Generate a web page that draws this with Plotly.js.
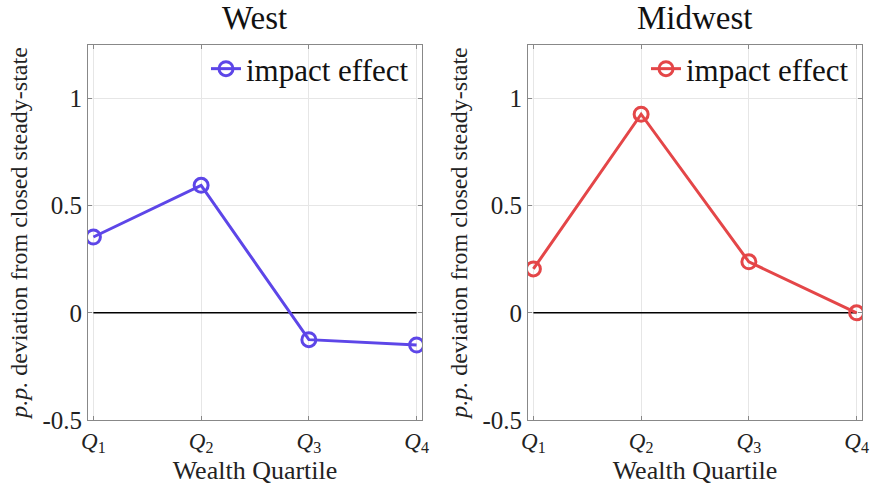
<!DOCTYPE html>
<html>
<head>
<meta charset="utf-8">
<script src="https://cdn.plot.ly/plotly-3.0.1.min.js"></script>
<style>html,body{margin:0;padding:0;background:#fff;}#chart{width:871px;height:487px;}</style>
</head>
<body>
<div id="chart"></div>
<script>
const quartiles = [1, 2, 3, 4];
const tickLabels = ['<i>Q</i><sub>1</sub>', '<i>Q</i><sub>2</sub>', '<i>Q</i><sub>3</sub>', '<i>Q</i><sub>4</sub>'];
const westValues = [0.354, 0.595, -0.125, -0.150];
const midwestValues = [0.205, 0.927, 0.238, 0.0];
const zeroLine = [0, 0, 0, 0];
const panelTitles = ['West', 'Midwest'];
const seriesName = 'impact effect';
const yTickVals = [-0.5, 0, 0.5, 1];
const yTickText = ['-0.5', '0', '0.5', '1'];

const font = 'Liberation Serif';
const westColor = 'rgb(93,70,232)';
const midColor = 'rgb(228,70,72)';

function series(x, y, color, xa, ya, legend) {
  return {
    x: x, y: y, xaxis: xa, yaxis: ya, type: 'scatter', mode: 'lines+markers',
    name: seriesName, legend: legend,
    line: {color: color, width: 3},
    marker: {symbol: 'circle-open', size: 14, color: color, line: {width: 3, color: color}}
  };
}
function zero(xa, ya) {
  return {x: quartiles, y: zeroLine, xaxis: xa, yaxis: ya, type: 'scatter', mode: 'lines',
    line: {color: '#000', width: 1.5}, showlegend: false, hoverinfo: 'skip'};
}

const data = [
  zero('x', 'y'),
  zero('x2', 'y2'),
  series(quartiles, westValues, westColor, 'x', 'y', 'legend'),
  series(quartiles, midwestValues, midColor, 'x2', 'y2', 'legend2')
];

function xaxis(domain, anchor) {
  return {
    domain: domain, anchor: anchor, range: [0.95, 4.05],
    tickvals: quartiles, ticktext: tickLabels,
    showgrid: true, gridcolor: '#e6e6e6', gridwidth: 1,
    zeroline: false, showline: true, linecolor: '#888', linewidth: 1, mirror: 'ticks',
    ticks: 'inside', ticklen: 4, tickcolor: '#888',
    tickfont: {family: font, size: 23, color: '#222'},
    title: {text: 'Wealth Quartile', font: {family: font, size: 26, color: '#222'}, standoff: 5}
  };
}
function yaxis(domain, anchor) {
  return {
    domain: domain, anchor: anchor, range: [-0.5, 1.25],
    tickvals: yTickVals, ticktext: yTickText,
    showgrid: true, gridcolor: '#e6e6e6', gridwidth: 1,
    zeroline: false, showline: true, linecolor: '#888', linewidth: 1, mirror: 'ticks',
    ticks: 'inside', ticklen: 4, tickcolor: '#888',
    tickfont: {family: font, size: 25, color: '#222'},
    title: {text: '<i>p.p.</i> deviation from closed steady-state', font: {family: font, size: 24, color: '#222'}, standoff: 8}
  };
}

const ydom = [1 - 420 / 487, 1 - 45 / 487];
const layout = {
  width: 871, height: 487,
  margin: {l: 0, r: 0, t: 0, b: 0},
  paper_bgcolor: '#fff', plot_bgcolor: '#fff',
  showlegend: true,
  xaxis: xaxis([88 / 871, 422 / 871], 'y'),
  yaxis: yaxis(ydom, 'x'),
  xaxis2: xaxis([528 / 871, 862 / 871], 'y2'),
  yaxis2: yaxis(ydom, 'x2'),
  legend: {x: 414 / 871, xanchor: 'right', y: 1 - 42 / 487, yanchor: 'top',
    bgcolor: 'rgba(0,0,0,0)', font: {family: font, size: 31, color: '#111'}, itemwidth: 30},
  legend2: {x: 854 / 871, xanchor: 'right', y: 1 - 42 / 487, yanchor: 'top',
    bgcolor: 'rgba(0,0,0,0)', font: {family: font, size: 31, color: '#111'}, itemwidth: 30},
  annotations: [
    {text: panelTitles[0], xref: 'paper', yref: 'paper', x: 255 / 871, y: 1 - 18 / 487, xanchor: 'center', yanchor: 'middle', showarrow: false, font: {family: font, size: 33, color: '#111'}},
    {text: panelTitles[1], xref: 'paper', yref: 'paper', x: 695 / 871, y: 1 - 18 / 487, xanchor: 'center', yanchor: 'middle', showarrow: false, font: {family: font, size: 33, color: '#111'}}
  ]
};

Plotly.newPlot('chart', data, layout, {displayModeBar: false, staticPlot: true});
</script>
</body>
</html>
